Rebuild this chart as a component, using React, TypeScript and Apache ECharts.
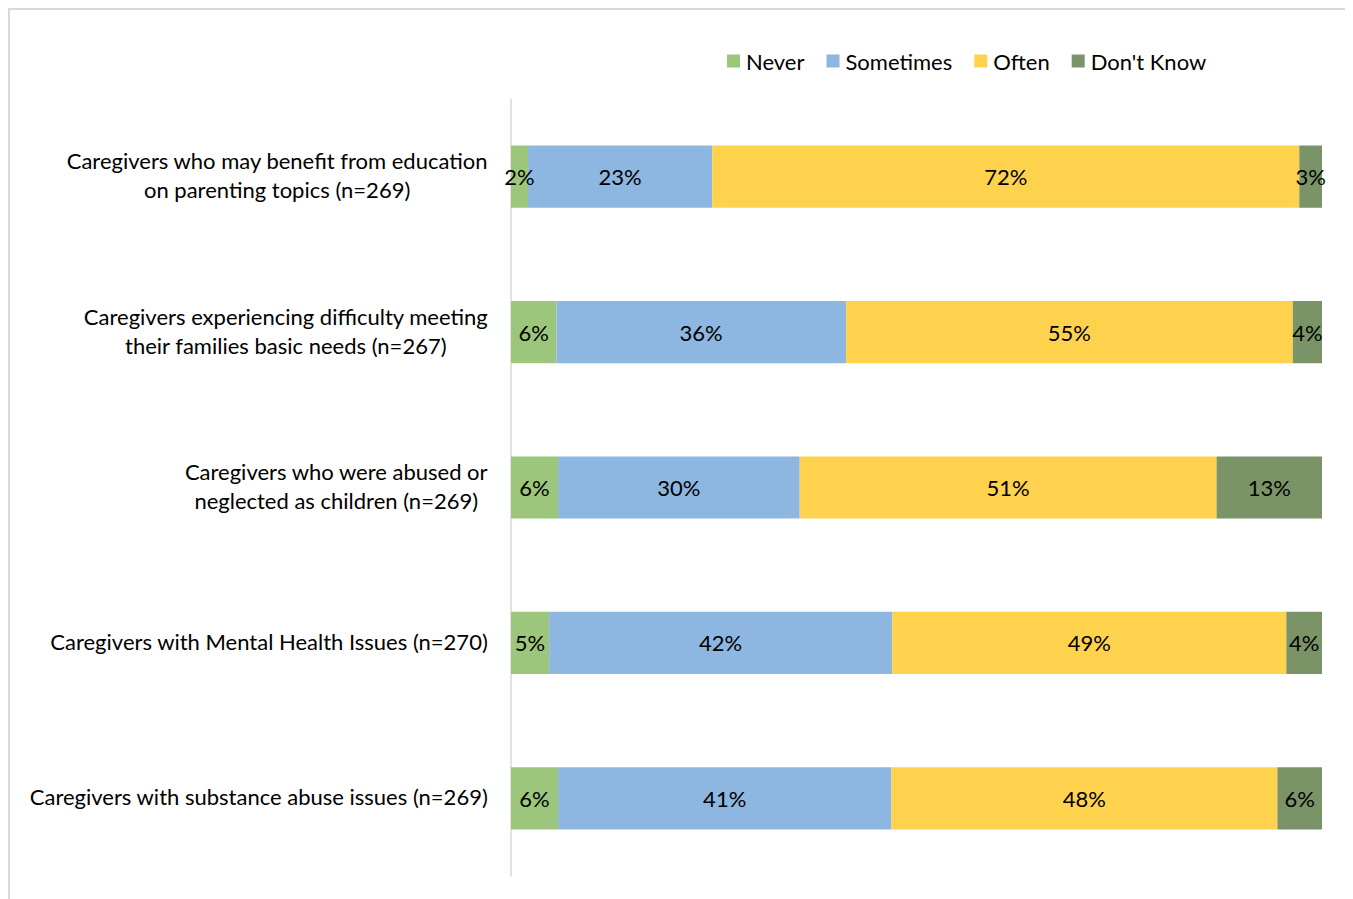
import React, { useEffect, useRef } from "react";
import * as echarts from "echarts";

const categories = [
  "Caregivers who may benefit from education\non parenting topics (n=269)",
  "Caregivers experiencing difficulty meeting\ntheir families basic needs (n=267)",
  "Caregivers who were abused or\nneglected as children (n=269)",
  "Caregivers with Mental Health Issues (n=270)",
  "Caregivers with substance abuse issues (n=269)",
];
const seriesNames = ["Never", "Sometimes", "Often", "Don't Know"];
const never = [2.1, 5.6, 5.8, 4.7, 5.8];
const sometimes = [22.7, 35.7, 29.8, 42.3, 41.1];
const often = [72.4, 55.1, 51.4, 48.6, 47.6];
const dontKnow = [2.8, 3.6, 13.0, 4.4, 5.5];
const colors = ["#9CC67C", "#8DB6E1", "#FFD24D", "#7A9468"];

const FONT = "Lato";

export default function App() {
  const ref = useRef<HTMLDivElement>(null);
  useEffect(() => {
    document.body.style.overflow = "hidden";
    if (!ref.current) return;
    const chart = echarts.init(ref.current, null, { renderer: "svg" });
    const values = [never, sometimes, often, dontKnow];
    chart.setOption({
      animation: false,
      textStyle: { fontFamily: FONT },
      legend: {
        data: seriesNames,
        left: 712,
        top: 35,
        itemWidth: 13,
        itemHeight: 13,
        itemGap: 22,
        icon: "rect",
        textStyle: { fontSize: 22, color: "#000", fontFamily: FONT, padding: [0, 0, 0, 1] },
      },
      grid: { left: 501, right: 28, top: 89, bottom: 30, containLabel: false },
      xAxis: {
        type: "value",
        min: 0,
        max: 100,
        show: false,
      },
      yAxis: {
        type: "category",
        data: categories,
        inverse: true,
        axisLine: { show: true, lineStyle: { color: "#d9d9d9", width: 1.5 } },
        axisTick: { show: false },
        axisLabel: {
          margin: 23,
          fontSize: 22,
          color: "#000",
          fontFamily: FONT,
          lineHeight: 29,
          padding: [0, 0, 3, 0],
          formatter: (v: string) =>
            v
              .split("\n")
              .map((l) => "{c|" + l + "}")
              .join("\n"),
          rich: { c: { align: "center", fontSize: 22, fontFamily: FONT, color: "#000", lineHeight: 29 } },
        },
      },
      series: seriesNames.map((name, i) => ({
        name,
        type: "bar",
        stack: "total",
        barCategoryGap: "60%",
        data: values[i],
        itemStyle: { color: colors[i] },
        label: {
          show: true,
          position: "inside",
          fontSize: 22,
          color: "#000",
          fontFamily: FONT,
          formatter: (p: any) => Math.round(p.value) + "%",
        },
      })),
    });
    return () => chart.dispose();
  }, []);
  return (
    <div
      style={{
        width: 1344,
        height: 900,
        border: "2px solid #d9d9d9",
        boxSizing: "border-box",
        background: "#fff",
      }}
    >
      <div ref={ref} style={{ width: 1340, height: 896 }} />
    </div>
  );
}
